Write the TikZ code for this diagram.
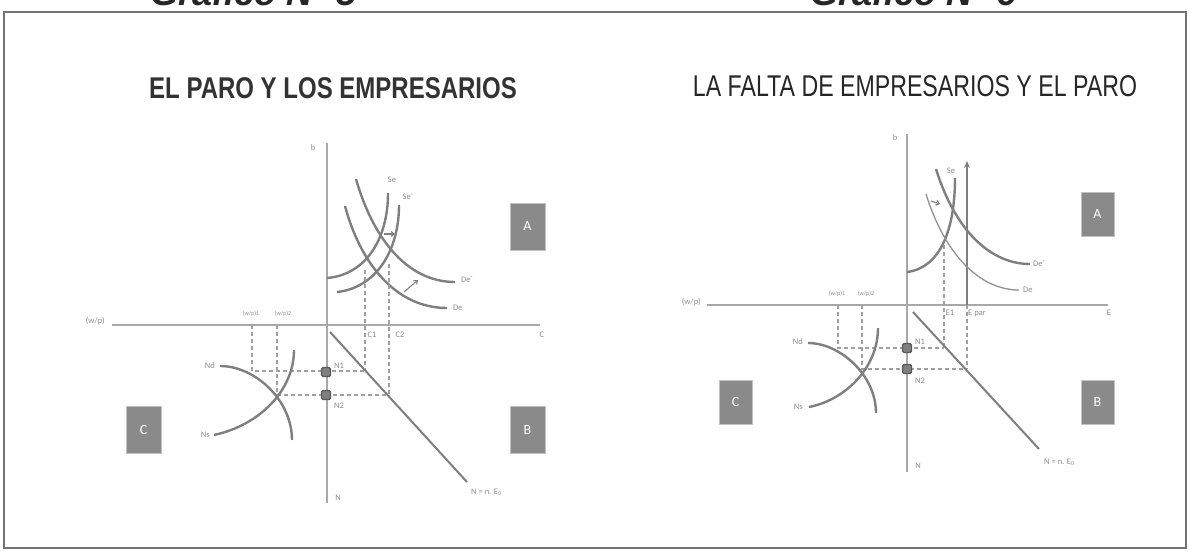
\documentclass[tikz,border=0pt]{standalone}
\usepackage{fontspec}
\setmainfont{Liberation Sans}
\newfontfamily\labfont{Carlito}
\usetikzlibrary{arrows.meta}
\definecolor{crv}{HTML}{7F7F7F}
\definecolor{axc}{HTML}{A8A8A8}
\definecolor{dsh}{HTML}{A0A0A0}
\definecolor{boxc}{HTML}{8A8A8A}
\definecolor{txt}{HTML}{8C8C8C}
\tikzset{
  curve/.style={draw=crv, line width=2.4pt},
  thincurve/.style={draw=crv!85, line width=1.3pt},
  axisline/.style={draw=axc, line width=1.6pt},
  guide/.style={draw=dsh, line width=1.1pt, dash pattern=on 4pt off 3pt},
  smallarrow/.style={draw=crv, line width=1.1pt, -{Straight Barb[length=3pt,width=5pt]}},
  quad/.style={fill=boxc, draw=axc!70, line width=0.8pt, minimum width=35pt, minimum height=47pt, inner sep=0pt, text=white, font=\labfont\fontsize{14}{14}\selectfont},
  sq/.style={fill=crv, draw=black!65, line width=1.4pt, rounded corners=1.5pt, minimum size=9pt, inner sep=0pt},
  lbl/.style={text=txt, font=\labfont\fontsize{8.5}{9}\selectfont, inner sep=1pt},
  tinylbl/.style={text=txt, font=\labfont\fontsize{6}{6}\selectfont, inner sep=0.5pt},
  ttl/.style={text=black!85, inner sep=0pt, font=\fontsize{30}{30}\selectfont},
  hdr/.style={text=black!85, inner sep=0pt, font=\fontsize{36}{36}\selectfont\bfseries\itshape},
}
\begin{document}
\begin{tikzpicture}[x=1pt,y=-1pt]
\useasboundingbox (0,0) rectangle (1189,550);
% clipped headers and frame
\node[hdr, anchor=base west] (h1) at (150,5) {Gráfico N° 5};
\node[hdr, anchor=base west] (h2) at (810,5) {Gráfico N° 6};
\draw[draw=black!55, line width=1.6pt] (4,12) rectangle (1186,548);
% titles
\node[ttl, text=black!80] (t1) at (333,88) {\scalebox{0.80}[1]{\bfseries EL PARO Y LOS EMPRESARIOS}};
\node[ttl] (t2) at (915,86) {\scalebox{0.772}[1]{LA FALTA DE EMPRESARIOS Y EL PARO}};

% ================= LEFT DIAGRAM =================
\draw[axisline] (327,143) -- (327,503);
\draw[axisline] (112,325) -- (540,325);
\node[lbl, anchor=east] (Lwp) at (106,321) {(w/p)};
\node[lbl] (Lb) at (313,148) {b};
\node[lbl] (LC) at (542,335) {C};
\node[lbl] (LN) at (338,498) {N};
% quadrant A curves
\draw[curve] (356,179) .. controls (372,235) and (405,282) .. (455,282);
\draw[curve] (345,206) .. controls (360,262) and (395,308) .. (447,308);
\draw[curve] (327,278) .. controls (365,275) and (388,240) .. (388,193);
\draw[curve] (337,292) .. controls (375,288) and (399,252) .. (399,205);
\node[lbl] (LSe) at (392,180) {Se};
\node[lbl] (LSe2) at (408,197) {Se´};
\node[lbl, anchor=west] (LDe2) at (460,280) {De´};
\node[lbl, anchor=west] (LDe) at (452,308) {De};
\coordinate (La1) at (384,234); \coordinate (La2) at (395,234);
\draw[smallarrow] (La1) -- (La2);
\coordinate (La3) at (404,292); \coordinate (La4) at (418,280);
\draw[smallarrow] (La3) -- (La4);
% guides
\coordinate (Lg1) at (365,270); \coordinate (Lg2) at (365,371);
\coordinate (Lg3) at (389,264); \coordinate (Lg4) at (389,395);
\coordinate (Lg5) at (252,325); \coordinate (Lg6) at (252,371);
\coordinate (Lg7) at (277,325); \coordinate (Lg8) at (277,395);
\draw[guide] (Lg1) -- (Lg2);
\draw[guide] (Lg3) -- (Lg4);
\draw[guide] (Lg5) -- (Lg6) -- (Lg2);
\draw[guide] (Lg7) -- (Lg8) -- (Lg4);
\node[tinylbl] (Lw1) at (251,314) {(w/p)1};
\node[tinylbl] (Lw2) at (283,314) {(w/p)2};
\node[lbl] (LC1) at (372,335) {C1};
\node[lbl] (LC2) at (400,335) {C2};
% N line
\coordinate (LNa) at (330,332); \coordinate (LNb) at (467,482);
\draw[curve, line width=2pt] (LNa) -- (LNb);
\node[lbl, anchor=west] (LNl) at (470,492) {N = n. E\textsubscript{0}};
% squares
\node[sq] (LN1) at (326,372) {};
\node[sq] (LN2) at (326,395) {};
\node[lbl, anchor=west] (LN1l) at (333,366) {N1};
\node[lbl, anchor=west] (LN2l) at (333,406) {N2};
% quadrant C curves
\draw[curve] (220,366) .. controls (255,366) and (292,400) .. (292,440);
\draw[curve] (214,435) .. controls (260,425) and (294,390) .. (294,350);
\node[lbl, anchor=east] (LNd) at (216,366) {Nd};
\node[lbl, anchor=east] (LNs) at (211,435) {Ns};
% boxes
\node[quad] (LA) at (527.5,226.5) {A};
\node[quad] (LB) at (527.5,429.5) {B};
\node[quad] (LCb) at (143.5,429.5) {C};

% ================= RIGHT DIAGRAM =================
\draw[axisline] (907,134) -- (907,472);
\draw[axisline] (707,305) -- (1108,305);
\node[lbl, anchor=east] (Rwp) at (702,302) {(w/p)};
\node[lbl] (Rb) at (895,138) {b};
\node[lbl] (RE) at (1109,313) {E};
\node[lbl] (RN) at (918,466) {N};
% thick vertical arrow
\coordinate (Rv1) at (967,305); \coordinate (Rv2) at (967,161);
\draw[curve, -{Stealth[length=7pt,width=6pt]}] (Rv1) -- (Rv2);
% quadrant A curves
\draw[curve] (907,272) .. controls (940,268) and (955,230) .. (955,178);
\draw[curve] (936,169) .. controls (955,230) and (990,264) .. (1030,264);
\draw[thincurve] (926,194) .. controls (945,255) and (980,290) .. (1019,290);
\node[lbl] (RSe) at (951,171) {Se};
\node[lbl, anchor=west] (RDe2) at (1032,264) {De´};
\node[lbl, anchor=west] (RDe) at (1022,290) {De};
\coordinate (Ra1) at (931,201); \coordinate (Ra2) at (940,204);
\draw[smallarrow] (Ra1) -- (Ra2);
% guides
\coordinate (Rg1) at (944,245); \coordinate (Rg2) at (944,348);
\coordinate (Rg3) at (967,305); \coordinate (Rg4) at (967,369);
\coordinate (Rg5) at (838,305); \coordinate (Rg6) at (838,348);
\coordinate (Rg7) at (862,305); \coordinate (Rg8) at (862,369);
\draw[guide] (Rg1) -- (Rg2);
\draw[guide] (Rg3) -- (Rg4);
\draw[guide] (Rg5) -- (Rg6) -- (Rg2);
\draw[guide] (Rg7) -- (Rg8) -- (Rg4);
\node[tinylbl] (Rw1) at (837,294) {(w/p)1};
\node[tinylbl] (Rw2) at (866,294) {(w/p)2};
\node[lbl] (RE1) at (950,313) {E1};
\node[lbl] (REp) at (977,313) {E par};
% N line
\coordinate (RNa) at (913,312); \coordinate (RNb) at (1039,449);
\draw[curve, line width=2pt] (RNa) -- (RNb);
\node[lbl, anchor=west] (RNl) at (1043,462) {N = n. E\textsubscript{0}};
% squares
\node[sq] (RN1) at (907,348) {};
\node[sq] (RN2) at (907,369) {};
\node[lbl, anchor=west] (RN1l) at (914,342) {N1};
\node[lbl, anchor=west] (RN2l) at (914,381) {N2};
% quadrant C curves
\draw[curve] (808,343) .. controls (840,343) and (876,375) .. (876,413);
\draw[curve] (809,407) .. controls (845,400) and (878,368) .. (878,328);
\node[lbl, anchor=east] (RNd) at (804,342) {Nd};
\node[lbl, anchor=east] (RNs) at (804,407) {Ns};
% boxes
\node[quad, minimum width=33pt, minimum height=44pt] (RA) at (1097.5,214) {A};
\node[quad, minimum width=33pt, minimum height=44pt] (RB) at (1097.5,402) {B};
\node[quad, minimum width=33pt, minimum height=44pt] (RCb) at (735.5,402) {C};
\end{tikzpicture}
\end{document}
